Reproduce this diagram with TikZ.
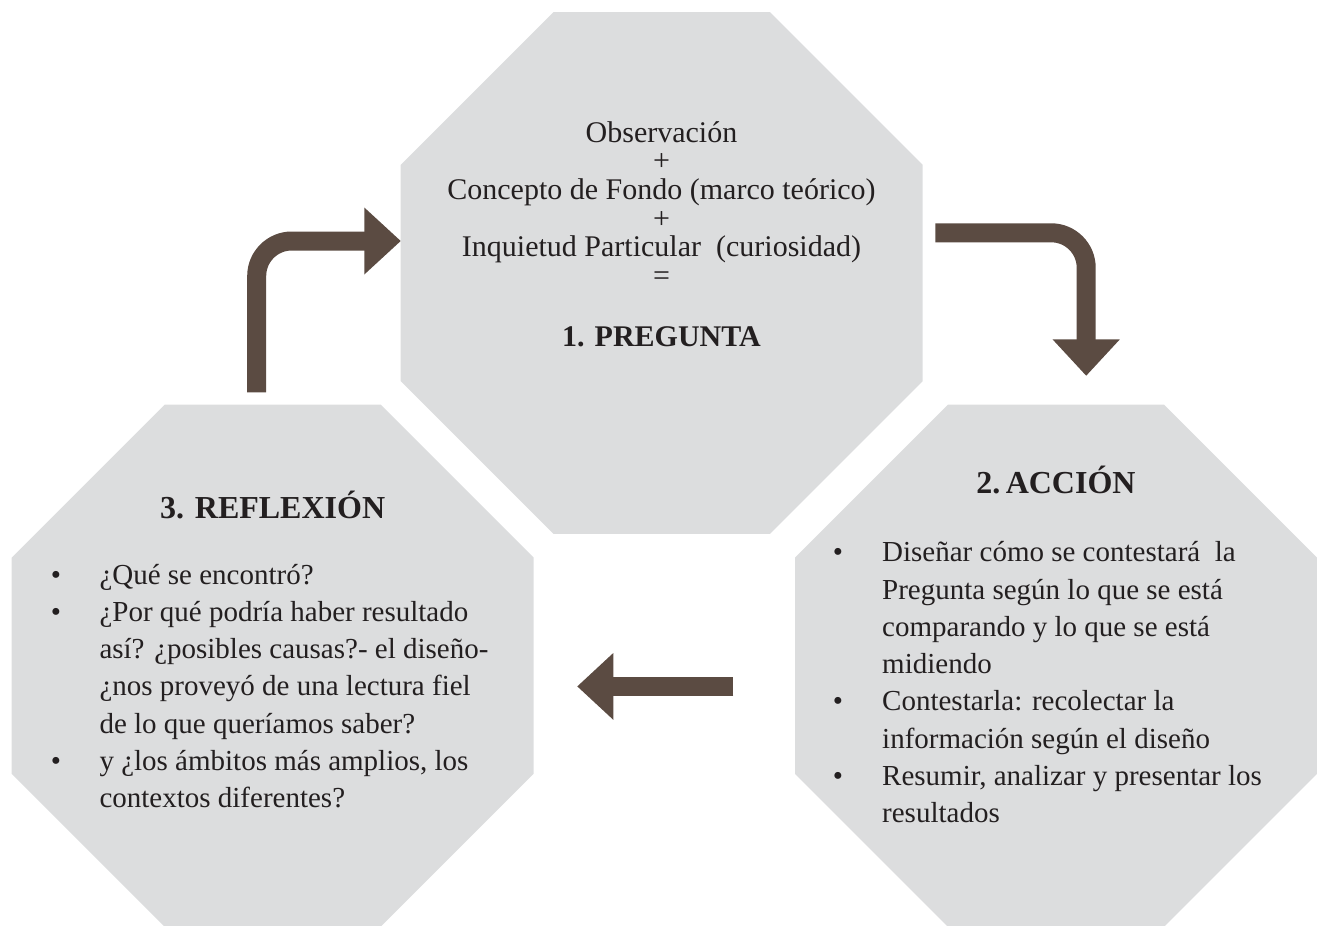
\documentclass[tikz,border=0pt]{standalone}
\usepackage{fontspec}
\setmainfont{Liberation Serif}
\usetikzlibrary{shapes.geometric,calc}
\definecolor{octfill}{HTML}{DCDDDE}
\definecolor{arrowcol}{HTML}{5B4B42}
\definecolor{txt}{HTML}{231F20}
\begin{document}
\begin{tikzpicture}[x=1pt,y=-1pt,
  oct/.style={regular polygon, regular polygon sides=8, minimum size=565pt,
    inner sep=0pt, outer sep=0pt, fill=octfill, draw=none},
  shaft/.style={draw=arrowcol, line width=19pt, rounded corners=35pt},
  head/.style={fill=arrowcol, draw=none},
  toptext/.style={text=txt, font=\fontsize{30}{28.7}\selectfont, inner sep=0pt, anchor=base},
  title/.style={text=txt, font=\fontsize{32}{36}\selectfont\bfseries, inner sep=0pt, anchor=base},
  bul/.style={text=txt, font=\fontsize{29}{37.3}\selectfont, inner sep=0pt, anchor=base},
  item/.style={text=txt, font=\fontsize{29}{37.3}\selectfont, inner sep=0pt, anchor=base west, align=left}
]
\useasboundingbox (0,0) rectangle (1318,926);

% octagons
\node[oct] (pq) at (661.7,273) {};
\node[oct] (rf) at (272.7,665.7) {};
\node[oct] (ac) at (1056,665.7) {};

% top octagon text
\node[toptext] (l1) at (661.5,142) {Observación};
\node[toptext] (l2) at (661.5,170.7) {+};
\node[toptext] (l3) at (661.5,199.4) {Concepto de Fondo (marco teórico)};
\node[toptext] (l4) at (661.5,228.1) {+};
\node[toptext] (l5) at (661.5,256.8) {Inquietud Particular\ \ (curiosidad)};
\node[toptext] (l6) at (661.5,285.5) {=};
\node[toptext, font=\fontsize{30}{28.7}\selectfont\bfseries] (pt) at (661.5,346.4) {1. PREGUNTA};

% left octagon text (multi-line nodes anchored at the baseline of their last line)
\node[title] (rt) at (272.7,518.3) {3. REFLEXIÓN};
\node[bul] (rb1) at (56,584) {•};
\node[item] (ri1) at (99.3,584) {¿Qué se encontró?};
\node[bul] (rb2) at (56,621.3) {•};
\node[item] (ri2) at (99.3,733.2) {¿Por qué podría haber resultado\\así? ¿posibles causas?- el diseño-\\¿nos proveyó de una lectura fiel\\de lo que queríamos saber?};
\node[bul] (rb3) at (56,770.5) {•};
\node[item] (ri3) at (99.3,807.8) {y ¿los ámbitos más amplios, los\\contextos diferentes?};

% right octagon text
\node[title] (at) at (1056,493.3) {2.\,ACCIÓN};
\node[bul] (ab1) at (838,561.7) {•};
\node[item] (ai1) at (882,673.6) {Diseñar cómo se contestará\ \ la\\Pregunta según lo que se está\\comparando y lo que se está\\midiendo};
\node[bul] (ab2) at (838,710.9) {•};
\node[item] (ai2) at (882,748.2) {Contestarla: recolectar la\\información según el diseño};
\node[bul] (ab3) at (838,785.5) {•};
\node[item] (ai3) at (882,822.8) {Resumir, analizar y presentar los\\resultados};

% arrow 1: reflexion -> pregunta
\coordinate (a1s) at (256.7,392.3);
\coordinate (a1j) at (375,241);
\coordinate (a1b) at (364.3,241);
\coordinate (a1t) at (400.7,241);
\draw[shaft] (a1s) |- (a1j);
\fill[head] ($(a1b)+(0,-33.5)$) -- (a1t) -- ($(a1b)+(0,33.5)$) -- cycle;

% arrow 2: pregunta -> accion
\coordinate (a2s) at (935.3,232.8);
\coordinate (a2j) at (1086.2,350);
\coordinate (a2b) at (1086.2,339.3);
\coordinate (a2t) at (1086.2,375.7);
\draw[shaft] (a2s) -| (a2j);
\fill[head] ($(a2b)+(-33.7,0)$) -- (a2t) -- ($(a2b)+(33.7,0)$) -- cycle;

% arrow 3: accion -> reflexion
\coordinate (a3s) at (733.3,686.4);
\coordinate (a3j) at (603,686.4);
\coordinate (a3b) at (613.3,686.4);
\coordinate (a3t) at (577.3,686.4);
\draw[shaft] (a3s) -- (a3j);
\fill[head] ($(a3b)+(0,-33.4)$) -- (a3t) -- ($(a3b)+(0,33.4)$) -- cycle;
\end{tikzpicture}
\end{document}
